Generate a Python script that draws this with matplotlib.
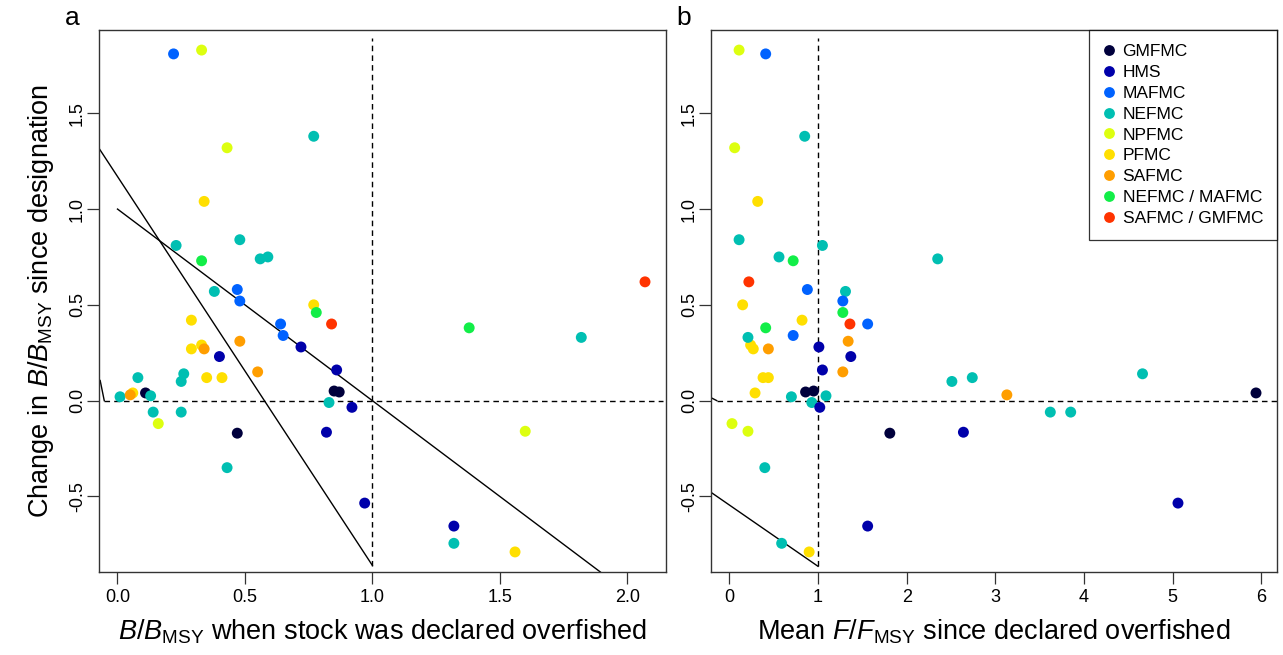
import matplotlib
matplotlib.use('Agg')
import matplotlib.pyplot as plt
from matplotlib.lines import Line2D
import numpy as np

plt.rcParams['font.family'] = ['Liberation Sans', 'DejaVu Sans']
plt.rcParams['mathtext.fontset'] = 'custom'
plt.rcParams['mathtext.rm'] = 'Liberation Sans'
plt.rcParams['mathtext.it'] = 'Liberation Sans:italic'
plt.rcParams['mathtext.bf'] = 'Liberation Sans:bold'

# --- Councils and their colours ---
councils = ['GMFMC', 'HMS', 'MAFMC', 'NEFMC', 'NPFMC', 'PFMC', 'SAFMC',
            'NEFMC / MAFMC', 'SAFMC / GMFMC']
council_colors = ['#00003C', '#0000AA', '#0062FF', '#00BFB2', '#DDFF10',
                  '#FFDF00', '#FF9E00', '#12EE48', '#FF3300']

# --- One entry per stock ---
stock_council = [
    'MAFMC', 'NPFMC', 'NEFMC', 'NPFMC', 'PFMC', 'NEFMC', 'NEFMC', 'NEFMC / MAFMC',
    'NEFMC', 'NEFMC', 'NEFMC', 'MAFMC', 'MAFMC', 'PFMC', 'NEFMC / MAFMC', 'PFMC',
    'MAFMC', 'SAFMC / GMFMC', 'MAFMC', 'HMS', 'SAFMC', 'PFMC', 'PFMC', 'SAFMC',
    'HMS', 'SAFMC', 'HMS', 'NEFMC', 'NEFMC', 'PFMC', 'PFMC', 'NEFMC',
    'GMFMC', 'GMFMC', 'NEFMC', 'PFMC', 'SAFMC', 'GMFMC', 'NEFMC', 'NEFMC',
    'HMS', 'NEFMC', 'NEFMC', 'NPFMC', 'GMFMC', 'HMS', 'NEFMC', 'HMS',
    'SAFMC / GMFMC', 'NEFMC / MAFMC', 'NEFMC', 'NPFMC', 'HMS', 'NEFMC', 'PFMC']

# B/BMSY when the stock was declared overfished
b_declared = [
    0.22, 0.33, 0.77, 0.43, 0.34, 0.23, 0.48, 0.33, 0.56, 0.59, 0.38, 0.47,
    0.48, 0.77, 0.78, 0.29, 0.64, 0.84, 0.65, 0.72, 0.48, 0.29, 0.33, 0.34,
    0.40, 0.55, 0.86, 0.26, 0.25, 0.35, 0.41, 0.08, 0.85, 0.87, 0.01, 0.06,
    0.05, 0.11, 0.13, 0.83, 0.92, 0.14, 0.25, 0.16, 0.47, 0.82, 0.43, 0.97,
    2.07, 1.38, 1.82, 1.60, 1.32, 1.32, 1.56]

# mean F/FMSY since declared overfished
f_mean = [
    0.41, 0.11, 0.85, 0.06, 0.32, 1.05, 0.11, 0.72, 2.35, 0.56, 1.31, 0.88,
    1.28, 0.15, 1.28, 0.82, 1.56, 1.36, 0.72, 1.01, 1.34, 0.27, 0.24, 0.44,
    1.37, 1.28, 1.05, 4.66, 2.51, 0.38, 0.44, 2.74, 0.95, 0.86, 0.70, 0.29,
    3.13, 5.94, 1.09, 0.93, 1.02, 3.62, 3.85, 0.03, 1.81, 2.64, 0.40, 5.06,
    0.22, 0.41, 0.21, 0.21, 1.56, 0.59, 0.90]

# change in B/BMSY since designation
b_change = [
    1.81, 1.83, 1.38, 1.32, 1.04, 0.81, 0.84, 0.73, 0.74, 0.75, 0.57, 0.58,
    0.52, 0.50, 0.46, 0.42, 0.40, 0.40, 0.34, 0.28, 0.31, 0.27, 0.29, 0.27,
    0.23, 0.15, 0.16, 0.14, 0.10, 0.12, 0.12, 0.12, 0.05, 0.045, 0.02, 0.04,
    0.03, 0.04, 0.025, -0.01, -0.035, -0.06, -0.06, -0.12, -0.17, -0.165, -0.35, -0.535,
    0.62, 0.38, 0.33, -0.16, -0.655, -0.745, -0.79]

# fitted / reference lines (intercept, slope)
fit_a = (1.17, -2.03)
recovery_a = (1.0, -1.0)
fit_b = (-0.545, -0.32)

color_of = dict(zip(councils, council_colors))
point_colors = [color_of[c] for c in stock_council]


def r_limits(vals, frac=0.04):
    lo, hi = min(vals), max(vals)
    pad = (hi - lo) * frac
    return lo - pad, hi + pad


fig = plt.figure(figsize=(12.83, 6.55), dpi=100)
ax_a = fig.add_axes([0.0772, 0.1267, 0.4419, 0.8275])
ax_b = fig.add_axes([0.5542, 0.1267, 0.4411, 0.8275])

ylim = r_limits(b_change)
label_fs = 19.5
tick_fs = 13
msz = 62
dash = (0, (4, 3))

for ax, xvals in [(ax_a, b_declared), (ax_b, f_mean)]:
    ax.set_xlim(r_limits(xvals))
    ax.set_ylim(ylim)
    ax.scatter(xvals, b_change, c=point_colors, s=msz, linewidths=0, zorder=3)
    ax.plot([1, 1], [-0.863, 1.895], color='black', lw=1, linestyle=dash, zorder=1)
    ax.set_yticks([-0.5, 0.0, 0.5, 1.0, 1.5])
    ax.set_yticklabels(['-0.5', '0.0', '0.5', '1.0', '1.5'], rotation=90, va='center')
    ax.tick_params(direction='out', length=8.5, width=0.9, color='#333333',
                   labelsize=tick_fs, pad=4)
    ax.tick_params(axis='y', pad=1)
    for sp in ax.spines.values():
        sp.set_linewidth(1.0)
        sp.set_color('#333333')

# panel a: reference lines
xa0, xa1 = ax_a.get_xlim()
ax_a.plot([xa0 + 0.001, 1.0], [fit_a[0] + fit_a[1] * (xa0 + 0.001), fit_a[0] + fit_a[1]],
          color='black', lw=1, zorder=2)
x_end = (ylim[0] - recovery_a[0]) / recovery_a[1]
ax_a.plot([0.0, x_end], [recovery_a[0], recovery_a[0] + recovery_a[1] * x_end],
          color='black', lw=1, zorder=2)
ax_a.plot([-0.068, -0.052], [0.105, 0.0], color='black', lw=1, zorder=2)
ax_a.plot([-0.052, 2.139], [0, 0], color='black', lw=1, linestyle=dash, zorder=1)
ax_a.set_xticks([0.0, 0.5, 1.0, 1.5, 2.0])
ax_a.set_xticklabels(['0.0', '0.5', '1.0', '1.5', '2.0'])

# panel b: reference lines
xb0, xb1 = ax_b.get_xlim()
ax_b.plot([xb0 + 0.005, 1.0], [fit_b[0] + fit_b[1] * (xb0 + 0.005), fit_b[0] + fit_b[1]],
          color='black', lw=1, zorder=2)
ax_b.plot([xb0 + 0.005, -0.142], [0.014, 0.0], color='black', lw=1, zorder=2)
ax_b.plot([-0.142, xb1], [0, 0], color='black', lw=1, linestyle=dash, zorder=1)
ax_b.set_xticks(range(7))

ax_a.set_xlabel(r'$B/B_{\mathrm{MSY}}$ when stock was declared overfished',
                fontsize=label_fs, labelpad=8)
ax_a.set_ylabel(r'Change in $B/B_{\mathrm{MSY}}$ since designation',
                fontsize=label_fs, labelpad=9)
ax_b.set_xlabel(r'Mean $F/F_{\mathrm{MSY}}$ since declared overfished',
                fontsize=label_fs, labelpad=8)

fig.text(72 / 1283, 1 - 18 / 655, 'a', fontsize=19, ha='center', va='center')
fig.text(684 / 1283, 1 - 18 / 655, 'b', fontsize=19, ha='center', va='center')

handles = [Line2D([], [], marker='o', ls='', color=c, markersize=7.8,
                  markeredgewidth=0) for c in council_colors]
leg = ax_b.legend(handles, councils, loc='upper right', borderaxespad=0,
                  fontsize=12.5, frameon=True, fancybox=False, edgecolor='black',
                  handlelength=0.7, handletextpad=0.45, labelspacing=0.33,
                  borderpad=0.8)
leg.get_frame().set_linewidth(0.9)

fig.savefig('out.png', dpi=100)
